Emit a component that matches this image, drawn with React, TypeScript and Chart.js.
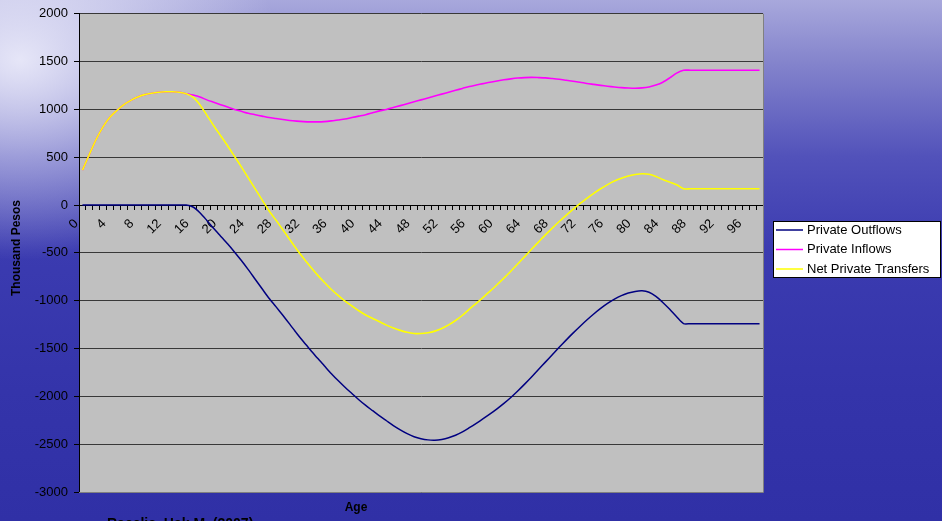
import React, { useEffect, useRef } from 'react';
import { Chart, registerables } from 'chart.js';

Chart.register(...registerables);

const FONT = "'Liberation Sans', Arial, sans-serif";

const ages: string[] = Array.from({ length: 99 }, (_, i) => String(i));

const privateOutflows: number[] = [
  0, 0, 0, 0, 0, 0, 0, 0, 0, 0,
  0, 0, 0, 0, 0, 0, -20, -80, -160, -245,
  -325, -405, -490, -580, -675, -775, -875, -975, -1062, -1152,
  -1245, -1340, -1430, -1515, -1600, -1680, -1760, -1835, -1905, -1970,
  -2035, -2095, -2150, -2205, -2255, -2305, -2350, -2390, -2422, -2443,
  -2455, -2458, -2450, -2433, -2407, -2372, -2328, -2282, -2234, -2184,
  -2131, -2074, -2012, -1944, -1872, -1797, -1720, -1642, -1564, -1487,
  -1412, -1339, -1269, -1202, -1139, -1081, -1029, -984, -947, -920,
  -903, -897, -912, -955, -1018, -1090, -1168, -1240, -1240, -1240,
  -1240, -1240, -1240, -1240, -1240, -1240, -1240, -1240, -1240,
];

const privateInflows: number[] = [
  365, 530, 690, 820, 920, 990, 1050, 1095, 1130, 1155,
  1170, 1180, 1185, 1185, 1180, 1165, 1150, 1130, 1100, 1075,
  1050, 1025, 1000, 980, 960, 945, 930, 915, 905, 895,
  885, 878, 873, 870, 870, 873, 880, 890, 900, 915,
  930, 945, 965, 985, 1000, 1020, 1040, 1060, 1080, 1100,
  1120, 1140, 1160, 1180, 1200, 1220, 1240, 1255, 1270, 1285,
  1298, 1310, 1320, 1328, 1333, 1335, 1333, 1330, 1323, 1315,
  1305, 1295, 1285, 1272, 1262, 1252, 1243, 1235, 1228, 1224,
  1222, 1225, 1235, 1255, 1285, 1330, 1380, 1410, 1410, 1410,
  1410, 1410, 1410, 1410, 1410, 1410, 1410, 1410, 1410,
];

const netPrivateTransfers: number[] = [
  365, 530, 690, 820, 920, 990, 1050, 1095, 1130, 1155,
  1170, 1180, 1185, 1185, 1180, 1165, 1130, 1050, 940, 830,
  725, 620, 510, 400, 285, 170, 55, -60, -157, -257,
  -360, -462, -557, -645, -730, -807, -880, -945, -1005, -1055,
  -1105, -1150, -1185, -1220, -1255, -1285, -1310, -1330, -1342, -1343,
  -1335, -1318, -1290, -1253, -1207, -1152, -1088, -1027, -964, -899,
  -833, -764, -692, -616, -539, -462, -387, -312, -241, -172,
  -107, -44, 16, 70, 123, 171, 214, 251, 281, 304,
  319, 328, 323, 300, 267, 240, 212, 170, 170, 170,
  170, 170, 170, 170, 170, 170, 170, 170, 170,
];

const seriesNames = ['Private Outflows', 'Private Inflows', 'Net Private Transfers'];
const seriesColors = ['#000080', '#ff00ff', '#ffff00'];

const decor = {
  id: 'decor',
  beforeDraw(chart: any) {
    const { ctx, chartArea: a } = chart;
    ctx.save();
    ctx.fillStyle = '#c0c0c0';
    ctx.fillRect(a.left, a.top, a.right - a.left, a.bottom - a.top);
    ctx.restore();
  },
  afterDraw(chart: any) {
    const { ctx, chartArea: a } = chart;
    ctx.save();
    // plot border right/bottom
    ctx.strokeStyle = '#808080';
    ctx.lineWidth = 1;
    ctx.beginPath();
    ctx.moveTo(a.left, a.bottom + 0.5);
    ctx.lineTo(a.right + 0.5, a.bottom + 0.5);
    ctx.lineTo(a.right + 0.5, a.top);
    ctx.stroke();

    // legend
    const lx = 773, ly = 221, lw = 168, lh = 57;
    ctx.fillStyle = '#ffffff';
    ctx.fillRect(lx, ly, lw, lh);
    ctx.strokeStyle = '#000000';
    ctx.strokeRect(lx + 0.5, ly + 0.5, lw - 1, lh - 1);
    ctx.font = `13px ${FONT}`;
    ctx.textBaseline = 'middle';
    ctx.textAlign = 'left';
    seriesNames.forEach((name, i) => {
      const y = 230 + i * 19.5;
      ctx.strokeStyle = seriesColors[i];
      ctx.lineWidth = 1.5;
      ctx.beginPath();
      ctx.moveTo(776, y);
      ctx.lineTo(803, y);
      ctx.stroke();
      ctx.fillStyle = '#000000';
      ctx.fillText(name, 807, y);
    });

    // axis titles
    ctx.fillStyle = '#000000';
    ctx.font = `bold 12px ${FONT}`;
    ctx.textAlign = 'center';
    ctx.textBaseline = 'middle';
    ctx.fillText('Age', 356, 508);
    ctx.save();
    ctx.translate(17, 248);
    ctx.rotate(-Math.PI / 2);
    ctx.fillText('Thousand Pesos', 0, 0);
    ctx.restore();

    // source (cut off at bottom)
    ctx.font = `bold 14px ${FONT}`;
    ctx.textAlign = 'left';
    ctx.textBaseline = 'top';
    ctx.fillText('Racelis, Hak M. (2007)', 107, 517);
    ctx.restore();
  },
};

export default function App() {
  const ref = useRef<HTMLCanvasElement | null>(null);

  useEffect(() => {
    document.body.style.margin = '0';
    const canvas = ref.current;
    if (!canvas) return;
    const chart = new Chart(canvas, {
      type: 'line',
      data: {
        labels: ages,
        datasets: [
          { label: seriesNames[0], data: privateOutflows, borderColor: seriesColors[0], borderWidth: 1.5, pointRadius: 0, tension: 0.25, fill: false, order: 3 },
          { label: seriesNames[1], data: privateInflows, borderColor: seriesColors[1], borderWidth: 1.6, pointRadius: 0, tension: 0.25, fill: false, order: 2 },
          { label: seriesNames[2], data: netPrivateTransfers, borderColor: seriesColors[2], borderWidth: 1.6, pointRadius: 0, tension: 0.25, fill: false, order: 1 },
        ],
      },
      options: {
        animation: false,
        responsive: false,
        devicePixelRatio: 1,
        layout: { padding: { left: 0, right: 179, top: 12, bottom: 29 } },
        plugins: {
          legend: { display: false },
          tooltip: { enabled: false },
          title: { display: false },
        },
        scales: {
          x: {
            type: 'category',
            position: { y: 0 } as any,
            offset: true,
            grid: {
              display: true,
              drawOnChartArea: false,
              drawTicks: true,
              tickLength: 4,
              color: '#000000',
              offset: true,
            },
            border: { display: true, color: '#000000', width: 1 },
            ticks: {
              autoSkip: false,
              minRotation: 45,
              maxRotation: 45,
              padding: 7,
              labelOffset: -6,
              color: '#000000',
              font: { size: 13, family: FONT },
              callback: (_v: any, i: number) => (i % 4 === 0 ? ages[i] : ''),
            },
          },
          y: {
            min: -3000,
            max: 2000,
            ticks: {
              stepSize: 500,
              color: '#000000',
              padding: 6,
              font: { size: 13, family: FONT },
              callback: (v: any) => String(v),
            },
            grid: {
              color: '#383838',
              tickColor: '#000000',
              lineWidth: 1,
              tickLength: 5,
              drawTicks: true,
            },
            border: { display: true, color: '#000000', width: 1 },
            afterFit: (s: any) => {
              s.width = 79;
            },
          },
        },
      },
      plugins: [decor],
    });
    return () => chart.destroy();
  }, []);

  return (
    <div
      style={{
        position: 'fixed',
        left: 0,
        top: 0,
        width: 942,
        height: 521,
        overflow: 'hidden',
        background:
          'radial-gradient(ellipse 260px 200px at 20px 60px, rgba(235,235,250,0.95), rgba(200,200,240,0) 100%), linear-gradient(to bottom, #a8a8dc 0%, #8484cc 12%, #5252ba 30%, #3b3bb0 48%, #3434aa 75%, #3030a6 100%)',
      }}
    >
      <canvas ref={ref} width={942} height={521} style={{ display: 'block' }} />
    </div>
  );
}
